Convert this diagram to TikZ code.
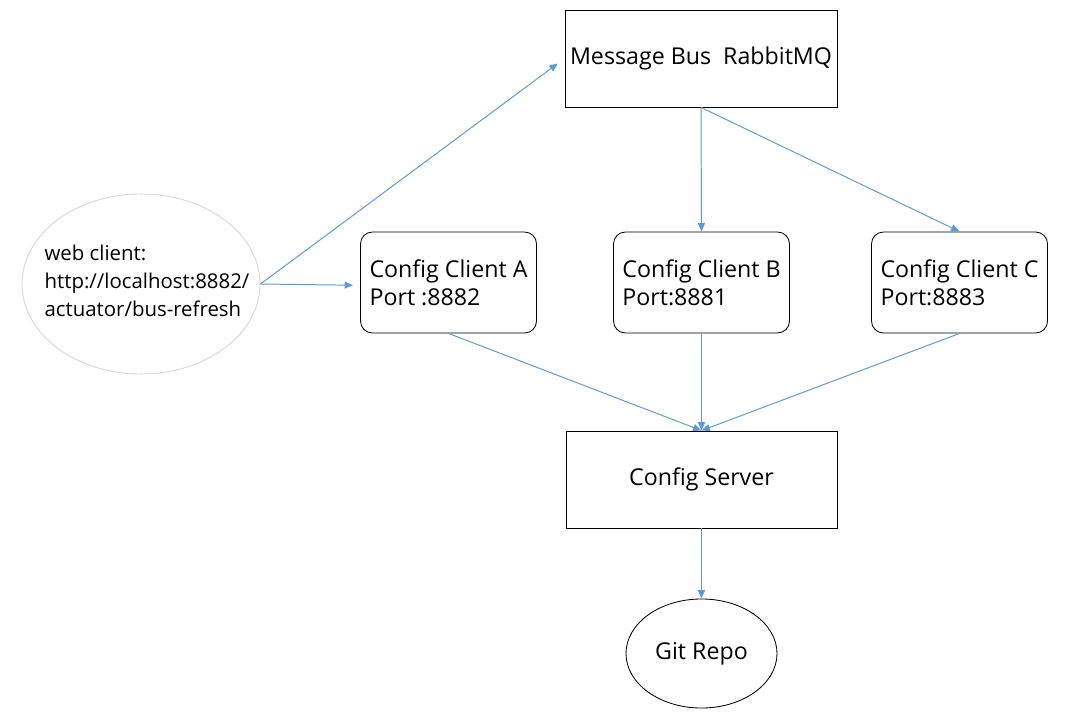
\documentclass[tikz,border=0pt]{standalone}
\usepackage{fontspec}
\setmainfont{Open Sans}
\usetikzlibrary{arrows.meta,shapes.geometric}
\definecolor{flowblue}{HTML}{5B9BD5}
\definecolor{cloudgray}{HTML}{D9D9D9}
\begin{document}
\begin{tikzpicture}[x=0.025cm,y=-0.025cm,>={Triangle[length=6pt,width=5pt]},
		box/.style={draw=black,line width=0.6pt,font=\fontsize{16.5}{19.8}\selectfont},
		client/.style={box,rounded corners=0.3cm,minimum width=4.4cm,minimum height=2.525cm,align=left},
		flow/.style={draw=flowblue,line width=0.7pt,->}]
	\useasboundingbox (0,0) rectangle (1077,714);
		\node[ellipse,draw=cloudgray,line width=0.7pt,minimum width=5.95cm,minimum height=4.5cm] (web) at (141,284) {};
		\node[align=left,font=\fontsize{14.5}{19.8}\selectfont] (webtext) at (147,281) {web client:\\http://localhost:8882/\\actuator/bus-refresh};
		\node[box,minimum width=6.8cm,minimum height=2.425cm] (bus) at (701,58.5) {Message Bus\ \ RabbitMQ};
		\node[client] (cA) at (448.5,282.5) {Config Client A\\Port :8882};
		\node[client] (cB) at (701.5,282.5) {Config Client B\\Port:8881};
		\node[client] (cC) at (959.5,282.5) {Config Client C\\Port:8883};
		\node[box,minimum width=6.775cm,minimum height=2.425cm] (server) at (701.5,479.5) {Config Server};
		\node[box,ellipse,minimum width=3.775cm,minimum height=2.725cm] (git) at (701.5,653.5) {Git Repo};
		% arrows
		\draw[flow,shorten >=6pt] (web.east) -- (bus.west);
		\draw[flow,shorten >=5pt] (web.east) -- ([yshift=-2pt]cA.west);
		\draw[flow] (bus.south) -- (cB.north);
		\draw[flow] (bus.south) -- (cC.north);
		\draw[flow] (cA.south) -- (server.north);
		\draw[flow] (cB.south) -- (server.north);
		\draw[flow] (cC.south) -- (server.north);
		\draw[flow] (server.south) -- (git.north);
	\end{tikzpicture}
\end{document}
